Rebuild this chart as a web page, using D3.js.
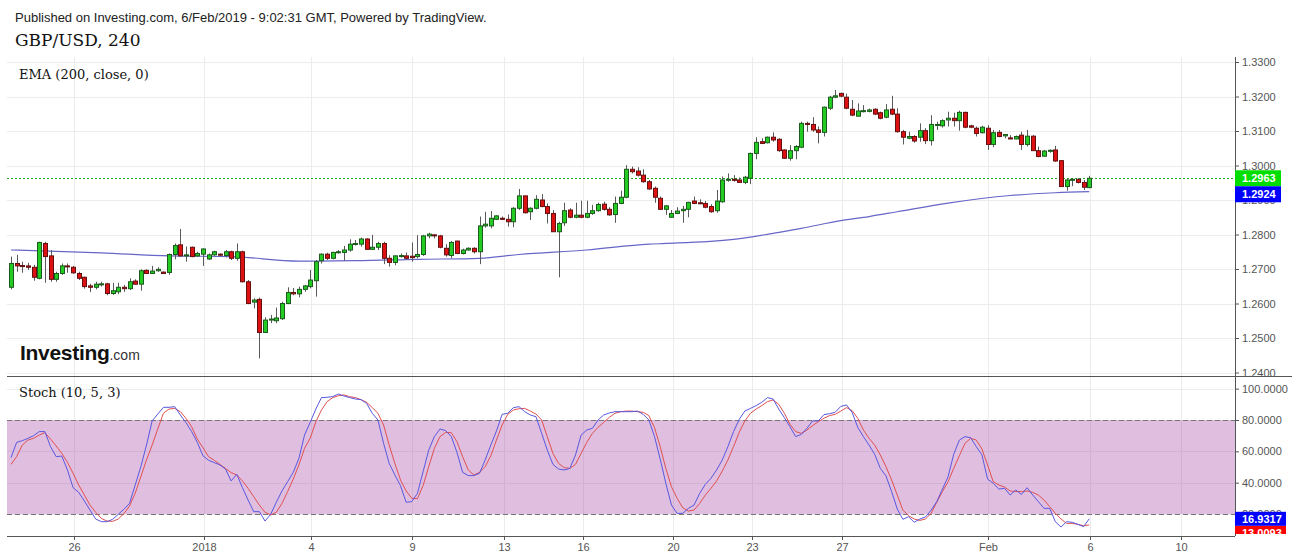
<!DOCTYPE html>
<html><head><meta charset="utf-8">
<script src="https://cdn.jsdelivr.net/npm/d3@7"></script>
<style>
body{margin:0;background:#fff;}
svg{display:block;}
</style></head><body>
<svg id="chart" width="1299" height="560"></svg>
<script>
// ---------- DATA ----------
const opens = [1.2647,1.2716,1.2710,1.2709,1.2705,1.2673,1.2774,1.2738,1.2670,1.2687,1.2709,1.2705,1.2687,1.2676,1.2651,1.2647,1.2655,1.2657,1.2629,1.2634,1.2647,1.2643,1.2665,1.2656,1.2696,1.2687,1.2695,1.2691,1.2690,1.2742,1.2770,1.2738,1.2763,1.2738,1.2743,1.2729,1.2741,1.2743,1.2739,1.2750,1.2731,1.2750,1.2663,1.2604,1.2612,1.2516,1.2552,1.2550,1.2556,1.2600,1.2632,1.2628,1.2641,1.2649,1.2666,1.2724,1.2743,1.2731,1.2747,1.2748,1.2755,1.2771,1.2772,1.2787,1.2757,1.2763,1.2774,1.2731,1.2719,1.2736,1.2738,1.2737,1.2736,1.2742,1.2796,1.2799,1.2796,1.2760,1.2739,1.2781,1.2745,1.2755,1.2760,1.2750,1.2825,1.2825,1.2844,1.2847,1.2844,1.2837,1.2876,1.2912,1.2866,1.2876,1.2900,1.2881,1.2861,1.2808,1.2834,1.2871,1.2850,1.2856,1.2850,1.2861,1.2869,1.2888,1.2873,1.2858,1.2890,1.2908,1.2989,1.2984,1.2972,1.2953,1.2934,1.2905,1.2873,1.2850,1.2861,1.2869,1.2873,1.2897,1.2892,1.2890,1.2881,1.2869,1.2895,1.2958,1.2960,1.2958,1.2951,1.2963,1.3035,1.3069,1.3066,1.3082,1.3076,1.3045,1.3021,1.3043,1.3053,1.3122,1.3119,1.3103,1.3096,1.3166,1.3198,1.3209,1.3198,1.3163,1.3143,1.3157,1.3157,1.3163,1.3153,1.3140,1.3163,1.3149,1.3098,1.3079,1.3084,1.3082,1.3101,1.3072,1.3117,1.3115,1.3132,1.3137,1.3130,1.3154,1.3115,1.3108,1.3095,1.3108,1.3061,1.3096,1.3086,1.3080,1.3077,1.3088,1.3061,1.3085,1.3043,1.3027,1.3042,1.3045,1.3014,1.2939,1.2958,1.2960,1.2951,1.2936];
const highs = [1.2736,1.2741,1.2721,1.2718,1.2712,1.2779,1.2779,1.2755,1.2692,1.2716,1.2716,1.2709,1.2692,1.2678,1.2657,1.2663,1.2663,1.2660,1.2660,1.2660,1.2654,1.2673,1.2670,1.2699,1.2699,1.2709,1.2705,1.2693,1.2745,1.2774,1.2816,1.2765,1.2765,1.2750,1.2760,1.2745,1.2753,1.2745,1.2755,1.2753,1.2774,1.2753,1.2668,1.2615,1.2617,1.2560,1.2567,1.2588,1.2605,1.2647,1.2645,1.2649,1.2654,1.2697,1.2726,1.2745,1.2747,1.2750,1.2755,1.2767,1.2786,1.2784,1.2791,1.2789,1.2799,1.2779,1.2779,1.2740,1.2740,1.2745,1.2748,1.2777,1.2798,1.2799,1.2805,1.2800,1.2799,1.2772,1.2781,1.2782,1.2759,1.2763,1.2763,1.2852,1.2866,1.2868,1.2856,1.2852,1.2858,1.2879,1.2932,1.2912,1.2879,1.2914,1.2917,1.2890,1.2871,1.2837,1.2892,1.2876,1.2892,1.2898,1.2898,1.2886,1.2892,1.2895,1.2879,1.2910,1.2927,1.3001,1.2997,1.2995,1.2989,1.2958,1.2939,1.2910,1.2885,1.2871,1.2879,1.2883,1.2895,1.2910,1.2902,1.2897,1.2888,1.2929,1.2968,1.2977,1.2972,1.2965,1.2970,1.3037,1.3082,1.3079,1.3084,1.3096,1.3079,1.3047,1.3059,1.3059,1.3127,1.3127,1.3140,1.3113,1.3171,1.3202,1.3219,1.3211,1.3208,1.3190,1.3180,1.3175,1.3165,1.3166,1.3156,1.3178,1.3202,1.3166,1.3103,1.3098,1.3088,1.3122,1.3108,1.3146,1.3127,1.3134,1.3156,1.3153,1.3159,1.3156,1.3118,1.3113,1.3115,1.3117,1.3103,1.3103,1.3091,1.3088,1.3087,1.3098,1.3103,1.3088,1.3055,1.3045,1.3047,1.3057,1.3016,1.2962,1.2963,1.2963,1.2958,1.2970];
const lows = [1.2641,1.2692,1.2689,1.2697,1.2666,1.2670,1.2660,1.2663,1.2663,1.2683,1.2689,1.2686,1.2668,1.2643,1.2633,1.2641,1.2649,1.2624,1.2625,1.2627,1.2634,1.2639,1.2654,1.2637,1.2686,1.2686,1.2692,1.2686,1.2683,1.2728,1.2736,1.2721,1.2734,1.2736,1.2709,1.2726,1.2738,1.2736,1.2734,1.2726,1.2724,1.2661,1.2598,1.2586,1.2441,1.2516,1.2543,1.2543,1.2552,1.2598,1.2624,1.2618,1.2634,1.2644,1.2620,1.2716,1.2726,1.2728,1.2745,1.2724,1.2750,1.2768,1.2765,1.2755,1.2755,1.2755,1.2714,1.2707,1.2711,1.2733,1.2728,1.2721,1.2731,1.2738,1.2789,1.2789,1.2760,1.2736,1.2731,1.2743,1.2742,1.2753,1.2745,1.2714,1.2820,1.2818,1.2842,1.2842,1.2823,1.2821,1.2871,1.2861,1.2842,1.2873,1.2879,1.2832,1.2808,1.2676,1.2825,1.2847,1.2847,1.2847,1.2847,1.2857,1.2866,1.2869,1.2854,1.2834,1.2888,1.2905,1.2977,1.2968,1.2950,1.2929,1.2892,1.2871,1.2857,1.2849,1.2859,1.2834,1.2850,1.2888,1.2888,1.2876,1.2863,1.2863,1.2892,1.2953,1.2953,1.2950,1.2946,1.2946,1.3018,1.3062,1.3064,1.3069,1.3040,1.3019,1.3014,1.3018,1.3050,1.3098,1.3098,1.3064,1.3084,1.3161,1.3195,1.3198,1.3163,1.3143,1.3142,1.3154,1.3154,1.3146,1.3134,1.3137,1.3146,1.3095,1.3061,1.3076,1.3066,1.3069,1.3062,1.3058,1.3103,1.3110,1.3113,1.3113,1.3101,1.3108,1.3108,1.3084,1.3093,1.3045,1.3053,1.3082,1.3079,1.3076,1.3076,1.3045,1.3055,1.3043,1.3024,1.3026,1.3037,1.3011,1.2939,1.2927,1.2940,1.2948,1.2929,1.2934];
const closes = [1.2716,1.2709,1.2707,1.2705,1.2676,1.2777,1.2736,1.2670,1.2687,1.2709,1.2707,1.2689,1.2673,1.2649,1.2647,1.2656,1.2657,1.2629,1.2637,1.2647,1.2643,1.2663,1.2656,1.2695,1.2687,1.2694,1.2699,1.2687,1.2742,1.2768,1.2738,1.2741,1.2736,1.2745,1.2758,1.2741,1.2750,1.2740,1.2750,1.2731,1.2750,1.2663,1.2600,1.2610,1.2516,1.2552,1.2555,1.2558,1.2600,1.2632,1.2628,1.2641,1.2651,1.2668,1.2721,1.2743,1.2731,1.2748,1.2750,1.2755,1.2772,1.2774,1.2787,1.2757,1.2763,1.2774,1.2731,1.2719,1.2738,1.2739,1.2731,1.2733,1.2742,1.2796,1.2801,1.2796,1.2763,1.2741,1.2777,1.2745,1.2755,1.2760,1.2750,1.2825,1.2830,1.2847,1.2854,1.2844,1.2837,1.2876,1.2912,1.2863,1.2876,1.2902,1.2881,1.2861,1.2808,1.2832,1.2869,1.2850,1.2856,1.2850,1.2861,1.2869,1.2887,1.2873,1.2857,1.2890,1.2908,1.2989,1.2982,1.2972,1.2953,1.2932,1.2908,1.2873,1.2883,1.2861,1.2868,1.2873,1.2893,1.2890,1.2889,1.2879,1.2866,1.2897,1.2958,1.2960,1.2958,1.2951,1.2966,1.3035,1.3067,1.3064,1.3082,1.3074,1.3043,1.3021,1.3043,1.3055,1.3122,1.3119,1.3103,1.3096,1.3169,1.3198,1.3202,1.3201,1.3166,1.3146,1.3158,1.3159,1.3161,1.3149,1.3137,1.3161,1.3149,1.3098,1.3082,1.3084,1.3071,1.3101,1.3072,1.3119,1.3119,1.3130,1.3137,1.3130,1.3154,1.3111,1.3111,1.3093,1.3111,1.3061,1.3095,1.3084,1.3090,1.3077,1.3084,1.3061,1.3085,1.3043,1.3026,1.3042,1.3044,1.3013,1.2939,1.2958,1.2960,1.2951,1.2937,1.2963];

const emaIdx  = [0,16,28,39,51,61,72,83,90,102,113,116,128,140,147,152,157,166,177,185,191];
const emaVals = [1.2755,1.2747,1.2738,1.2736,1.2723,1.2724,1.2728,1.2731,1.2742,1.2755,1.2772,1.2774,1.2786,1.2818,1.2840,1.2852,1.2866,1.2891,1.2913,1.2921,1.2924];

const stochK = [56.0,65.7,66.8,68.3,70.0,72.6,72.6,63.0,56.6,57.0,48.1,36.8,33.8,28.3,22.5,16.8,15.1,15.1,16.6,19.8,23.0,26.8,38.5,50.2,64.0,79.4,83.8,88.1,88.1,88.5,83.2,78.3,72.6,65.7,57.2,54.3,52.8,51.3,48.7,41.1,45.3,36.8,28.9,21.5,21.5,15.5,19.8,27.5,34.7,40.6,46.6,55.5,70.4,78.5,87.0,94.3,94.5,94.9,96.6,95.3,94.3,93.4,93.0,90.6,84.3,80.0,65.1,52.3,44.9,38.1,27.5,27.9,33.2,47.0,60.8,69.4,74.3,73.2,69.4,59.4,46.6,44.5,44.5,46.0,54.5,64.0,73.0,83.6,84.3,87.9,88.5,85.3,83.2,82.1,71.5,60.8,51.7,48.7,48.1,49.1,57.7,70.4,73.6,74.7,80.0,83.2,84.5,85.3,85.3,85.3,85.3,85.7,83.6,80.0,69.4,55.1,39.6,25.7,20.4,20.4,23.6,25.7,33.2,38.9,42.8,48.1,54.5,63.0,72.6,80.4,85.7,87.4,89.2,91.3,94.3,93.4,87.0,81.5,75.7,69.4,70.8,74.7,79.4,79.4,83.4,84.0,84.9,88.7,89.6,84.9,75.3,69.4,64.0,58.1,49.1,44.3,34.3,23.2,16.6,18.3,14.7,16.8,18.1,22.5,27.9,35.9,43.8,58.1,67.2,69.4,68.7,63.0,57.7,42.3,39.6,35.9,36.4,32.1,35.3,32.5,36.8,32.1,27.9,23.6,23.6,15.1,11.7,15.1,14.7,13.4,11.9,16.9317];
const stochD = [51.7,56.6,64.0,67.2,68.3,70.4,71.9,67.9,63.4,58.7,53.0,46.0,38.5,32.1,25.7,21.1,17.2,15.5,15.3,16.8,20.2,25.1,33.2,43.8,54.5,64.0,74.3,84.3,87.0,87.4,85.3,81.1,75.7,67.9,62.3,56.6,54.3,51.7,49.1,46.4,44.9,41.1,36.4,31.1,25.7,21.1,19.4,21.1,26.8,34.3,42.3,51.3,61.9,68.3,78.9,86.4,91.7,94.3,95.5,96.0,94.9,94.3,93.0,91.3,87.9,84.3,76.8,64.0,52.3,41.7,34.7,30.0,29.8,38.1,50.2,61.9,69.4,72.1,71.9,66.2,56.6,48.1,44.9,46.6,50.2,57.2,67.2,76.8,83.6,86.4,87.2,87.4,85.7,83.8,80.0,69.4,58.7,52.3,49.6,49.1,51.7,58.7,65.7,71.5,75.3,78.5,81.7,84.3,85.3,85.7,85.7,85.3,84.9,82.8,75.1,63.0,49.1,37.4,30.0,24.0,21.9,22.5,26.8,32.1,36.4,41.1,47.4,54.5,63.0,72.1,79.4,84.3,87.0,89.2,91.7,92.8,90.0,84.3,77.2,72.6,71.5,73.6,76.4,78.9,81.1,82.8,83.6,85.7,87.9,86.0,81.1,73.6,68.3,64.0,57.7,50.2,41.7,32.1,22.5,18.9,16.8,15.9,16.8,20.4,27.5,34.3,40.6,49.1,57.2,65.1,68.3,67.2,61.5,51.3,40.6,38.5,37.2,34.7,34.3,34.3,34.7,33.8,32.1,28.9,24.7,20.4,16.8,14.0,14.0,13.4,12.5,13.0093];

const priceTicks = [1.24,1.25,1.26,1.27,1.28,1.29,1.30,1.31,1.32,1.33];
const stochTicks = [20,40,60,80,100];
const stochBand = [20,80];
const timeLabels = ["26","2018","4","9","13","16","20","23","27","Feb","6","10"];
const timeIdx = [11.2,34.2,53.1,71.0,87.3,101.3,117.3,131.3,147.2,173.1,191.1,207.3];

// ---------- LAYOUT ----------
const svg = d3.select('#chart');
const L = 7, R = 1235, pTop = 57, pBot = 376, sTop = 377, sBot = 536;
const sans = '"Liberation Sans", Arial, sans-serif';
const serif = '"DejaVu Serif", serif';

const x = d3.scaleLinear().domain([0, 191]).range([11, 11 + 5.645 * 191]);
const y = d3.scaleLinear().domain([1.24, 1.33]).range([372.5, 62]);
const ys = d3.scaleLinear().domain([20, 80]).range([514, 420]);

const px = v => Math.round(v) + 0.5;

// header texts
svg.append('text').attr('x', 15).attr('y', 22).attr('font-family', sans).attr('font-size', 13)
  .attr('fill', '#222').text('Published on Investing.com, 6/Feb/2019 - 9:02:31 GMT, Powered by TradingView.');
svg.append('text').attr('x', 15).attr('y', 46).attr('font-family', serif).attr('font-size', 17)
  .attr('fill', '#111').text('GBP/USD, 240');

// grid
const grid = svg.append('g');
grid.selectAll('line.v1').data(timeIdx).join('line')
  .attr('x1', d => px(x(d))).attr('x2', d => px(x(d))).attr('y1', pTop).attr('y2', pBot)
  .attr('stroke', '#ececec');
grid.selectAll('line.v2').data(timeIdx).join('line')
  .attr('x1', d => px(x(d))).attr('x2', d => px(x(d))).attr('y1', sTop).attr('y2', sBot)
  .attr('stroke', '#ececec');
grid.selectAll('line.h1').data(priceTicks).join('line')
  .attr('x1', L).attr('x2', R).attr('y1', d => px(y(d))).attr('y2', d => px(y(d)))
  .attr('stroke', '#ececec');
grid.selectAll('line.h2').data(stochTicks).join('line')
  .attr('x1', L).attr('x2', R).attr('y1', d => px(ys(d))).attr('y2', d => px(ys(d)))
  .attr('stroke', '#ececec');

// stoch band
svg.append('rect').attr('x', L).attr('width', R - L)
  .attr('y', ys(stochBand[1])).attr('height', ys(stochBand[0]) - ys(stochBand[1]))
  .attr('fill', 'rgb(150,40,150)').attr('fill-opacity', 0.3);
svg.selectAll('line.band').data(stochBand).join('line')
  .attr('x1', L).attr('x2', R).attr('y1', d => px(ys(d))).attr('y2', d => px(ys(d)))
  .attr('stroke', '#777').attr('stroke-dasharray', '5,3');

// labels
svg.append('text').attr('x', 19).attr('y', 79).attr('font-family', serif).attr('font-size', 13)
  .attr('fill', '#111').text('EMA (200, close, 0)');
svg.append('text').attr('x', 19).attr('y', 397).attr('font-family', serif).attr('font-size', 13)
  .attr('fill', '#111').text('Stoch (10, 5, 3)');

// logo
const logo = svg.append('text').attr('x', 20).attr('y', 360).attr('font-family', sans);
logo.append('tspan').attr('font-size', 21).attr('font-weight', 'bold').attr('fill', '#111').attr('letter-spacing', -0.3).text('Investing');
logo.append('tspan').attr('font-size', 14).attr('fill', '#333').text('.com');

// last price dotted line
const lastC = closes[closes.length - 1];
svg.append('line').attr('x1', L).attr('x2', R).attr('y1', px(y(lastC))).attr('y2', px(y(lastC)))
  .attr('stroke', '#22aa22').attr('stroke-dasharray', '2,2');

// EMA line
svg.append('path').datum(emaIdx.map((d, i) => [d, emaVals[i]]))
  .attr('d', d3.line().x(d => x(d[0])).y(d => y(d[1])).curve(d3.curveMonotoneX))
  .attr('fill', 'none').attr('stroke', '#6666c8').attr('stroke-width', 1.2);

// candles
const candles = opens.map((o, i) => ({ i, o, h: highs[i], l: lows[i], c: closes[i] }));
const cg = svg.append('g');
cg.selectAll('line.wick').data(candles).join('line')
  .attr('x1', d => px(x(d.i))).attr('x2', d => px(x(d.i)))
  .attr('y1', d => y(d.h)).attr('y2', d => y(d.l))
  .attr('stroke', '#5a5a5a');
cg.selectAll('rect').data(candles).join('rect')
  .attr('x', d => Math.round(x(d.i)) - 2 + 0.5)
  .attr('width', 4)
  .attr('y', d => y(Math.max(d.o, d.c)))
  .attr('height', d => Math.max(1, Math.abs(y(d.o) - y(d.c))))
  .attr('fill', d => d.c >= d.o ? '#22cc22' : '#dd1111')
  .attr('stroke', d => d.c >= d.o ? '#1d5a1d' : '#641010')
  .attr('stroke-width', 1);

// stoch lines
const sline = d3.line().x((d, i) => x(i)).y(d => ys(d));
svg.append('path').datum(stochD).attr('d', sline).attr('fill', 'none').attr('stroke', '#e05050').attr('stroke-width', 1);
svg.append('path').datum(stochK).attr('d', sline).attr('fill', 'none').attr('stroke', '#5858e0').attr('stroke-width', 1);

// axes
const axP = svg.append('g').attr('transform', `translate(${R},0)`)
  .call(d3.axisRight(y).tickValues(priceTicks).tickFormat(d3.format('.4f')).tickSize(4).tickPadding(3));
axP.select('.domain').remove();
const axS = svg.append('g').attr('transform', `translate(${R},0)`)
  .call(d3.axisRight(ys).tickValues(stochTicks).tickFormat(d3.format('.4f')).tickSize(4).tickPadding(3));
axS.select('.domain').remove();
const axX = svg.append('g').attr('transform', `translate(0,${sBot})`)
  .call(d3.axisBottom(x).tickValues(timeIdx).tickFormat((d, i) => timeLabels[i]).tickSize(4).tickPadding(3));
axX.select('.domain').remove();
[axP, axS, axX].forEach(a => {
  a.selectAll('text').attr('font-family', sans).attr('font-size', 11).attr('fill', '#555');
  a.selectAll('line').attr('stroke', '#555');
});
axX.selectAll('.tick').attr('transform', d => `translate(${px(x(d))},0)`);

// frame lines
svg.append('line').attr('x1', px(R)).attr('x2', px(R)).attr('y1', pTop).attr('y2', sBot).attr('stroke', '#555');
svg.append('line').attr('x1', L).attr('x2', 1292).attr('y1', px(pBot)).attr('y2', px(pBot)).attr('stroke', '#555');
svg.append('line').attr('x1', L).attr('x2', R).attr('y1', px(sBot)).attr('y2', px(sBot)).attr('stroke', '#555');

// value boxes
function box(cy, h, w, fill, txt, clipBottom) {
  const g = svg.append('g');
  let top = cy - h / 2;
  let hh = h;
  if (clipBottom !== undefined && top + hh > clipBottom) hh = Math.max(0, clipBottom - top);
  g.append('rect').attr('x', R).attr('y', top).attr('width', w).attr('height', hh).attr('fill', fill);
  const t = g.append('text').attr('x', R + 7).attr('y', cy + 4).attr('font-family', sans)
    .attr('font-size', 11).attr('font-weight', 'bold').attr('fill', '#fff').text(txt);
  if (clipBottom !== undefined) {
    const id = 'clip' + Math.round(cy);
    svg.append('clipPath').attr('id', id).append('rect').attr('x', R).attr('y', top).attr('width', w).attr('height', hh);
    t.attr('clip-path', `url(#${id})`);
  }
  return top + h;
}
const fmt = d3.format('.4f');
const gY = y(lastC);
const gBottom = box(gY, 16, 46, '#00dd00', fmt(lastC));
const eLast = emaVals[emaVals.length - 1];
box(Math.max(y(eLast), gBottom + 8), 16, 46, '#0000ff', fmt(eLast));
const kLast = stochK[stochK.length - 1], dLast = stochD[stochD.length - 1];
const kY = ys(kLast);
box(Math.max(ys(dLast), kY + 14), 14, 51, '#ff0000', fmt(dLast), sBot - 2);
box(kY, 14, 51, '#0000ff', fmt(kLast));
</script>
</body></html>
